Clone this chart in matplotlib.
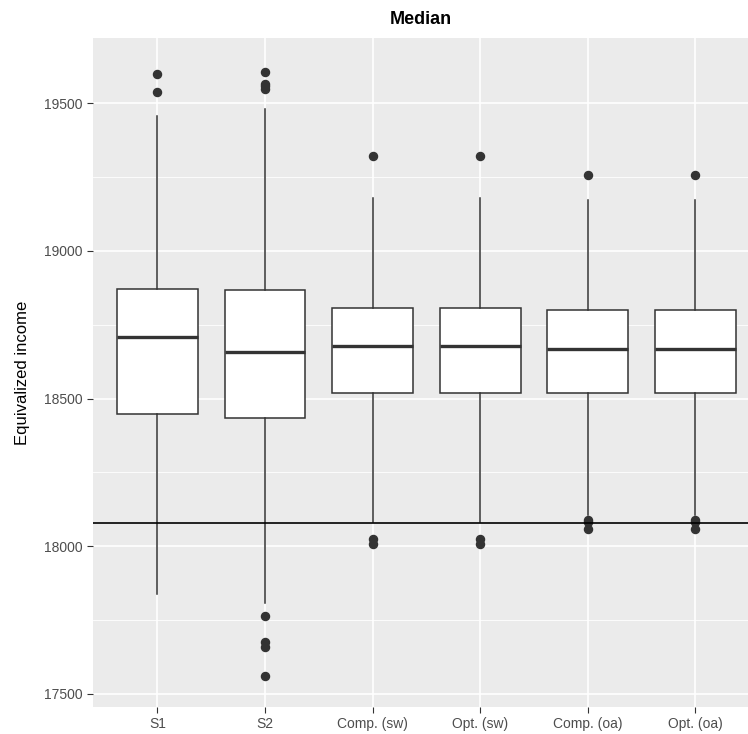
import matplotlib
matplotlib.use("Agg")
import matplotlib.pyplot as plt

plt.rcParams['font.family'] = ['Liberation Sans', 'DejaVu Sans']

# box statistics
labels = ["S1", "S2", "Comp. (sw)", "Opt. (sw)", "Comp. (oa)", "Opt. (oa)"]
q1 = [18447, 18434, 18517, 18517, 18519, 18519]
med = [18707, 18658, 18676, 18676, 18667, 18667]
q3 = [18870, 18866, 18805, 18805, 18799, 18799]
whislo = [17840, 17808, 18082, 18082, 18105, 18105]
whishi = [19457, 19479, 19178, 19178, 19172, 19172]
fliers = [
    [19597, 19536],
    [19604, 19566, 19556, 19548, 17764, 17675, 17660, 17561],
    [19321, 18023, 18006],
    [19321, 18023, 18006],
    [19256, 18090, 18083, 18057],
    [19256, 18090, 18083, 18057],
]
reference = 18079

stats = []
for i in range(len(labels)):
    stats.append(dict(label=labels[i], q1=q1[i], med=med[i], q3=q3[i],
                      whislo=whislo[i], whishi=whishi[i], fliers=fliers[i]))

fig = plt.figure(figsize=(7.48, 7.34), dpi=100)
ax = fig.add_axes([92.7 / 748, 27 / 734, (760 - 92.7) / 748, (707 - 38) / 734])
ax.set_facecolor("#EBEBEB")

# grid
for v in [17750, 18250, 18750, 19250]:
    ax.axhline(v, color="white", lw=0.6, zorder=0)
for v in [17500, 18000, 18500, 19000, 19500]:
    ax.axhline(v, color="white", lw=1.2, zorder=0)
for x in range(1, len(labels) + 1):
    ax.axvline(x, color="white", lw=1.2, zorder=0)

ax.bxp(stats, positions=range(1, len(labels) + 1), widths=0.75, patch_artist=True,
       showcaps=False,
       boxprops=dict(facecolor="white", edgecolor="#333333", lw=1.1),
       whiskerprops=dict(color="#333333", lw=1.1),
       medianprops=dict(color="#333333", lw=2.4),
       flierprops=dict(marker="o", markerfacecolor="#333333", markeredgecolor="#333333",
                       markersize=5.8, linestyle="none"))

ax.axhline(reference, color="black", lw=1.2, zorder=5)

ax.set_xlim(0.4, 6.6)
ax.set_ylim(17456, 19720)
ax.set_yticks([17500, 18000, 18500, 19000, 19500])
ax.set_xticks(range(1, len(labels) + 1))
ax.set_xticklabels(labels)
ax.tick_params(axis="both", colors="#333333", labelcolor="#4D4D4D", labelsize=10, length=4)
for s in ax.spines.values():
    s.set_visible(False)

ax.set_ylabel("Equivalized income", fontsize=12, labelpad=10)
fig.text((92.7 + 748) / 2 / 748, 1 - 20 / 734, "Median", ha="center", va="center",
         fontsize=13, fontweight="bold")

fig.savefig("out.png", dpi=100)
